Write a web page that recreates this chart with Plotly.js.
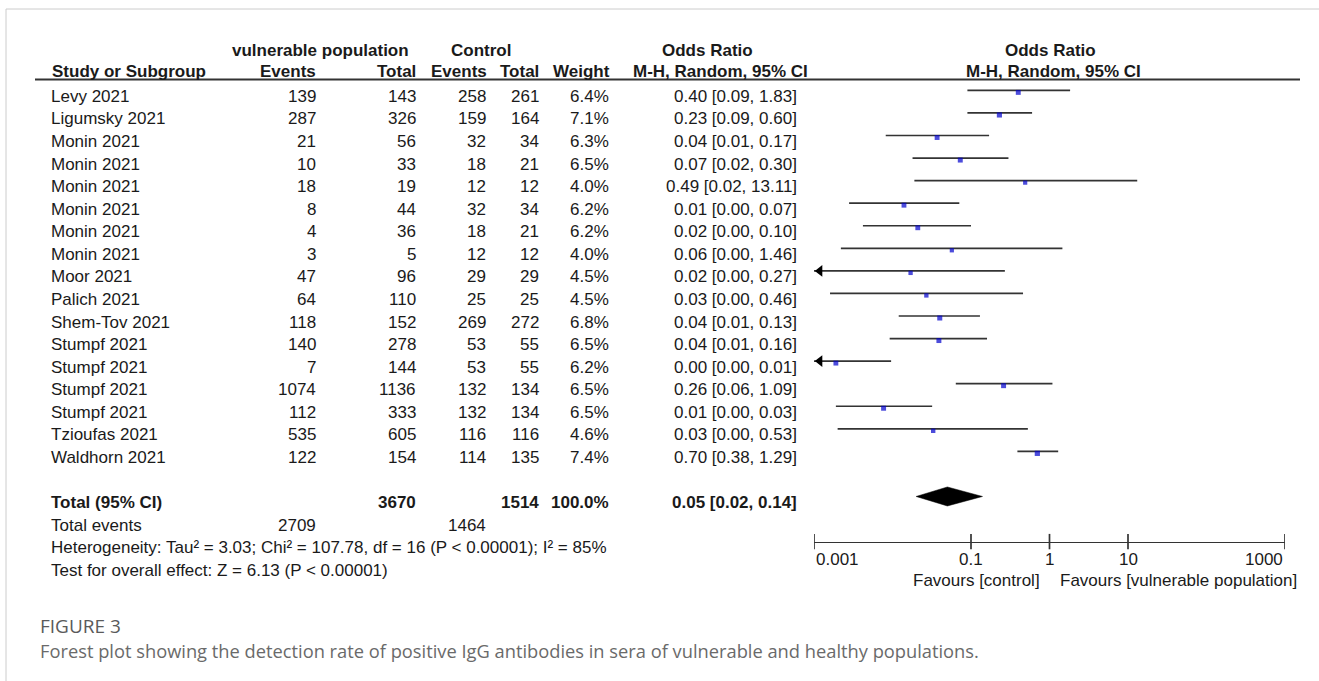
<!DOCTYPE html>
<html><head><meta charset="utf-8">
<script src="https://cdn.plot.ly/plotly-3.0.1.min.js"></script>
<style>html,body{margin:0;padding:0;background:#fff}#chart{width:1319px;height:681px}</style>
</head><body><div id="chart"></div>
<script>
// ---------------- data ----------------
const studies = ["Levy 2021","Ligumsky 2021","Monin 2021","Monin 2021","Monin 2021","Monin 2021","Monin 2021","Monin 2021","Moor 2021","Palich 2021","Shem-Tov 2021","Stumpf 2021","Stumpf 2021","Stumpf 2021","Stumpf 2021","Tzioufas 2021","Waldhorn 2021"];
const vulEvents = [139,287,21,10,18,8,4,3,47,64,118,140,7,1074,112,535,122];
const vulTotal  = [143,326,56,33,19,44,36,5,96,110,152,278,144,1136,333,605,154];
const ctlEvents = [258,159,32,18,12,32,18,12,29,25,269,53,53,132,132,116,114];
const ctlTotal  = [261,164,34,21,12,34,21,12,29,25,272,55,55,134,134,116,135];
const weights   = [6.4,7.1,6.3,6.5,4.0,6.2,6.2,4.0,4.5,4.5,6.8,6.5,6.2,6.5,6.5,4.6,7.4];
const ciText = ["0.40 [0.09, 1.83]","0.23 [0.09, 0.60]","0.04 [0.01, 0.17]","0.07 [0.02, 0.30]","0.49 [0.02, 13.11]","0.01 [0.00, 0.07]","0.02 [0.00, 0.10]","0.06 [0.00, 1.46]","0.02 [0.00, 0.27]","0.03 [0.00, 0.46]","0.04 [0.01, 0.13]","0.04 [0.01, 0.16]","0.00 [0.00, 0.01]","0.26 [0.06, 1.09]","0.01 [0.00, 0.03]","0.03 [0.00, 0.53]","0.70 [0.38, 1.29]"];
// plotted odds ratios and CIs
const orEst  = [0.40,0.23,0.037,0.073,0.49,0.014,0.021,0.057,0.017,0.027,0.040,0.039,0.0019,0.26,0.0077,0.033,0.70];
const ciLow  = [0.09,0.09,0.0082,0.018,0.019,0.0028,0.0042,0.0022,0.0004,0.0016,0.012,0.0092,0.0002,0.064,0.0019,0.0020,0.39];
const ciHigh = [1.83,0.60,0.17,0.30,13.11,0.071,0.10,1.46,0.27,0.46,0.13,0.16,0.0096,1.09,0.032,0.53,1.29];
// totals
const totalLabel = "Total (95% CI)";
const totalVul = 3670, totalCtl = 1514, totalWeight = "100.0%";
const totalOR = 0.05, totalLow = 0.02, totalHigh = 0.14, totalCIText = "0.05 [0.02, 0.14]";
const totalEventsVul = 2709, totalEventsCtl = 1464;
const heterogeneity = "Heterogeneity: Tau² = 3.03; Chi² = 107.78, df = 16 (P < 0.00001); I² = 85%";
const overallTest = "Test for overall effect: Z = 6.13 (P < 0.00001)";
const tickVals = [0.001, 0.1, 1, 10, 1000];
const tickLabels = ["0.001","0.1","1","10","1000"];
const favourLeft = "Favours [control]", favourRight = "Favours [vulnerable population]";
const captionHead = "FIGURE 3";
const captionText = "Forest plot showing the detection rate of positive IgG antibodies in sera of vulnerable and healthy populations.";

// ---------------- layout geometry ----------------
const W = 1319, H = 681;
const row0Px = 90.4, rowStep = 22.56;         // pixel y of first CI row, row spacing
const textShift = -6;                           // table text sits slightly below the CI line
const axisRow = 20;                             // row index of the x axis line
const totalRow = 18, eventsRow = 19, hetRow = 20, testRow = 21;
const axL = 814, axR = 1285;
const pxPerDecade = (axR - axL) / 6;
const FONT = "Liberation Sans, Arial, sans-serif";
const FS = 17, TXT = "#1a1a1a", LINE = "#333333";
const colX = {name: 49, vE: 318, vT: 418, cE: 488, cT: 541, w: 611, ci: 799};

const px = x => x / W;
const py = y => 1 - y / H;
const rowPx = r => row0Px + rowStep * r;

const ann = [];
function cell(xp, row, text, anchor, bold) {
  ann.push({xref:'paper', yref:'y', x: px(xp), y: row, yshift: textShift, text: bold ? '<b>'+text+'</b>' : String(text),
    showarrow:false, xanchor: anchor, yanchor:'middle', font:{family:FONT, size:FS, color:TXT}});
}
function hdr(xp, yp, text, anchor) {
  ann.push({xref:'paper', yref:'paper', x: px(xp), y: py(yp), text:'<b>'+text+'</b>', showarrow:false,
    xanchor: anchor, yanchor:'middle', font:{family:FONT, size:FS, color:TXT}});
}

// headers
hdr(320, 50, "vulnerable population", 'center');
hdr(481, 50, "Control", 'center');
hdr(707, 50, "Odds Ratio", 'center');
hdr(1050, 50, "Odds Ratio", 'center');
hdr(50, 71.7, "Study or Subgroup", 'left');
hdr(colX.vE, 71.7, "Events", 'right');
hdr(colX.vT, 71.7, "Total", 'right');
hdr(colX.cE + 1, 71.7, "Events", 'right');
hdr(colX.cT, 71.7, "Total", 'right');
hdr(colX.w + 1, 71.7, "Weight", 'right');
hdr(720, 71.7, "M-H, Random, 95% CI", 'center');
hdr(1053, 71.7, "M-H, Random, 95% CI", 'center');

// rows
studies.forEach((s, i) => {
  cell(colX.name, i, s, 'left');
  cell(colX.vE, i, vulEvents[i], 'right');
  cell(colX.vT, i, vulTotal[i], 'right');
  cell(colX.cE, i, ctlEvents[i], 'right');
  cell(colX.cT, i, ctlTotal[i], 'right');
  cell(colX.w, i, weights[i].toFixed(1) + '%', 'right');
  cell(colX.ci, i, ciText[i], 'right');
});
cell(colX.name, totalRow, totalLabel, 'left', true);
cell(colX.vT, totalRow, totalVul, 'right', true);
cell(colX.cT, totalRow, totalCtl, 'right', true);
cell(colX.w, totalRow, totalWeight, 'right', true);
cell(colX.ci, totalRow, totalCIText, 'right', true);
cell(colX.name, eventsRow, "Total events", 'left');
cell(colX.vE, eventsRow, totalEventsVul, 'right');
cell(colX.cE, eventsRow, totalEventsCtl, 'right');
cell(colX.name, hetRow, heterogeneity, 'left');
cell(colX.name, testRow, overallTest, 'left');

// tick labels
tickVals.forEach((v, k) => {
  ann.push({xref:'x', yref:'paper', x: Math.log10(v), y: py(559), text: tickLabels[k], showarrow:false,
    xanchor: k === 0 ? 'left' : (k === tickVals.length - 1 ? 'right' : 'center'), yanchor:'middle',
    font:{family:FONT, size:FS, color:TXT}});
});
ann.push({xref:'x', yref:'paper', x: 0, xshift:-8, y: py(580), text: favourLeft, showarrow:false, xanchor:'right', yanchor:'middle', font:{family:FONT, size:FS, color:TXT}});
ann.push({xref:'x', yref:'paper', x: 0, xshift:8, y: py(580), text: favourRight, showarrow:false, xanchor:'left', yanchor:'middle', font:{family:FONT, size:FS, color:TXT}});

// caption
ann.push({xref:'paper', yref:'paper', x: px(38), y: py(626), text: captionHead, showarrow:false, xanchor:'left', yanchor:'middle', font:{family:"Open Sans, sans-serif", size:19, color:"#5a5a5a"}});
ann.push({xref:'paper', yref:'paper', x: px(38), y: py(650), text: captionText, showarrow:false, xanchor:'left', yanchor:'middle', font:{family:"Open Sans, sans-serif", size:18.3, color:"#6a6a6a"}});

// ---------------- traces ----------------
const axMin = tickVals[0];
const lx = [], ly = [];
const arrowX = [], arrowY = [];
studies.forEach((s, i) => {
  const lo = Math.max(ciLow[i], axMin);
  lx.push(lo, ciHigh[i], null); ly.push(i, i, null);
  if (ciLow[i] < axMin) { arrowX.push(axMin * Math.pow(10, 5.8 / pxPerDecade)); arrowY.push(i); }
});
const traces = [
  {type:'scatter', mode:'lines', x: lx, y: ly, line:{color: LINE, width: 1.7}, hoverinfo:'skip', showlegend:false},
  {type:'scatter', mode:'markers', x: arrowX, y: arrowY, marker:{symbol:'triangle-left', size:10, color:'#000', line:{width:0}}, hoverinfo:'skip', showlegend:false},
  {type:'scatter', mode:'markers', x: orEst, y: studies.map((s, i) => i + 2 / rowStep),
    marker:{symbol:'square', size: weights.map(w => 3 + 0.3 * w), color:'#0000cc', line:{width:0}}, hoverinfo:'skip', showlegend:false},
  {type:'scatter', mode:'lines', x:[totalLow, totalOR, totalHigh, totalOR, totalLow],
    y:[totalRow, totalRow - 9.5 / rowStep, totalRow, totalRow + 9.5 / rowStep, totalRow],
    fill:'toself', fillcolor:'#000', line:{color:'#000', width:0.5}, hoverinfo:'skip', showlegend:false},
  {type:'scatter', mode:'markers', x: tickVals, y: tickVals.map(() => axisRow),
    marker:{symbol:'line-ns', size:11, line:{color: LINE, width:1.7}}, hoverinfo:'skip', showlegend:false}
];

const yTop = -row0Px / rowStep, yBot = (H - row0Px) / rowStep;
const layout = {
  width: W, height: H, autosize:false,
  margin:{l:0, r:0, t:0, b:0, pad:0},
  paper_bgcolor:'#fff', plot_bgcolor:'rgba(0,0,0,0)',
  showlegend:false,
  xaxis:{type:'log', range:[-3, 3], domain:[px(axL), px(axR)], anchor:'free', position: py(rowPx(axisRow)),
    showline:true, linecolor: LINE, linewidth:1.7, showgrid:false, zeroline:false, ticks:'', showticklabels:false, fixedrange:true},
  yaxis:{range:[yBot, yTop], domain:[0, 1], visible:false, showgrid:false, zeroline:false, fixedrange:true},
  annotations: ann,
  shapes: [
    // frame
    {type:'line', xref:'paper', yref:'paper', x0: px(6), x1: 1, y0: py(9), y1: py(9), line:{color:'#cccccc', width:1}},
    {type:'line', xref:'paper', yref:'paper', x0: px(6), x1: px(6), y0: py(9), y1: 0, line:{color:'#cccccc', width:1}},
    // header rule
    {type:'line', xref:'paper', yref:'paper', x0: px(35), x1: px(1300), y0: py(79.5), y1: py(79.5), line:{color: LINE, width:1.8}},
    // line of no effect
    {type:'line', xref:'x', yref:'paper', x0: 0, x1: 0, y0: py(79.5), y1: py(rowPx(axisRow)), line:{color: LINE, width:1.7}}
  ]
};
Plotly.newPlot('chart', traces, layout, {staticPlot:true, displayModeBar:false});
</script>
</body></html>
